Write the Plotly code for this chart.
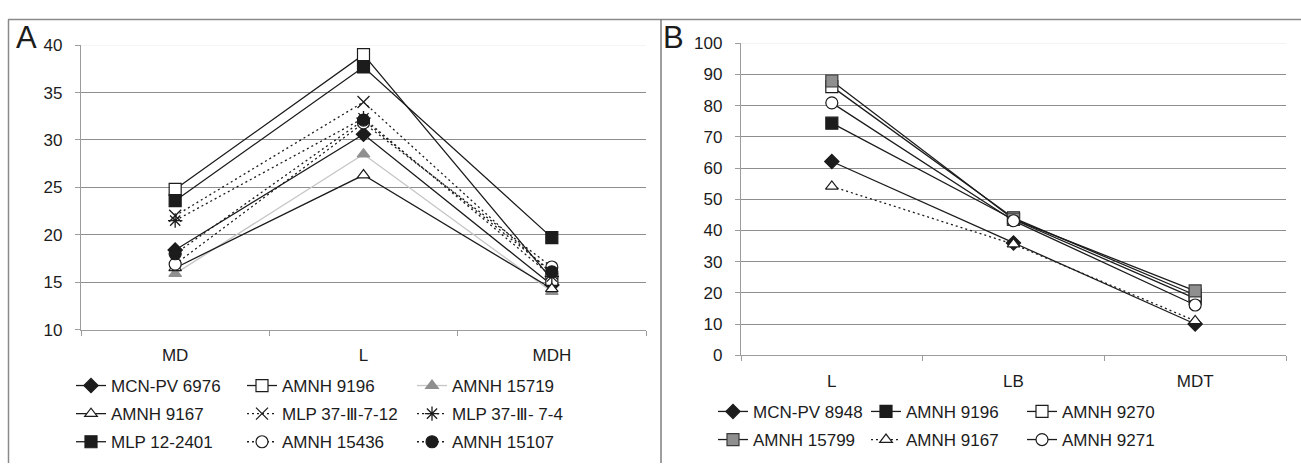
import plotly.graph_objects as go

W, H = 1301, 473

# ---------------- Panel A data ----------------
cats_a = ["MD", "L", "MDH"]
a_mcn_pv_6976 = [18.4, 30.6, 14.7]
a_amnh_9196 = [24.8, 39.0, 15.3]
a_amnh_15719 = [15.9, 28.5, 14.0]
a_amnh_9167 = [16.5, 26.3, 14.3]
a_mlp_37_iii_7_12 = [22.0, 34.0, 15.9]
a_mlp_37_iii_7_4 = [21.5, 32.3, 15.6]
a_mlp_12_2401 = [23.6, 37.7, 19.7]
a_amnh_15436 = [16.9, 31.8, 16.6]
a_amnh_15107 = [18.0, 32.1, 16.1]
ticks_a = [10, 15, 20, 25, 30, 35, 40]
grid_a = [15, 20, 25, 30, 35]

# ---------------- Panel B data ----------------
cats_b = ["L", "LB", "MDT"]
b_mcn_pv_8948 = [62.1, 36.0, 10.0]
b_amnh_9196 = [74.4, 43.5, 18.2]
b_amnh_9270 = [86.1, 44.0, 19.3]
b_amnh_15799 = [87.9, 43.6, 20.6]
b_amnh_9167 = [54.1, 35.6, 11.0]
b_amnh_9271 = [80.9, 43.1, 16.1]
ticks_b = [0, 10, 20, 30, 40, 50, 60, 70, 80, 90, 100]
grid_b = [10, 20, 30, 40, 50, 60, 70, 80, 90]

FONT = "Liberation Sans, Arial, sans-serif"
INK = "#1c1c1c"
GRID = "#8e8e8e"
AXIS = "#9c9c9c"

fig = go.Figure()


def add(name, x, y, xa, ya, legend, symbol, mfill, mline, size, dash="solid",
        lcolor=INK, mlw=1.2):
    fig.add_trace(go.Scatter(
        x=x, y=y, name=name, mode="lines+markers",
        xaxis=xa, yaxis=ya, legend=legend, legendgroup=name,
        line=dict(color=lcolor, width=1.3, dash=dash),
        marker=dict(symbol=symbol, size=size, color=mfill,
                    line=dict(color=mline, width=mlw)),
    ))


DOT = "2px,3px"
# Panel A (row-major order, columns -> legend, legend2, legend3)
add("MCN-PV 6976", cats_a, a_mcn_pv_6976, "x", "y", "legend", "diamond", INK, INK, 11)
add("AMNH 9196", cats_a, a_amnh_9196, "x", "y", "legend2", "square", "white", INK, 12)
add("AMNH 15719", cats_a, a_amnh_15719, "x", "y", "legend3", "triangle-up", "#8f8f8f", "#8f8f8f", 11, lcolor="#c6c6c6")
add("AMNH 9167", cats_a, a_amnh_9167, "x", "y", "legend", "triangle-up", "white", INK, 11)
add("MLP 37-Ⅲ-7-12", cats_a, a_mlp_37_iii_7_12, "x", "y", "legend2", "x-thin-open", INK, INK, 12, dash=DOT, mlw=1.3)
add("MLP 37-Ⅲ- 7-4", cats_a, a_mlp_37_iii_7_4, "x", "y", "legend3", "asterisk-open", INK, INK, 12, dash=DOT, mlw=1.3)
add("MLP 12-2401", cats_a, a_mlp_12_2401, "x", "y", "legend", "square", INK, INK, 12)
add("AMNH 15436", cats_a, a_amnh_15436, "x", "y", "legend2", "circle", "white", INK, 12, dash=DOT)
add("AMNH 15107", cats_a, a_amnh_15107, "x", "y", "legend3", "circle", INK, INK, 12, dash=DOT)

# Panel B
add("MCN-PV 8948", cats_b, b_mcn_pv_8948, "x2", "y2", "legend4", "diamond", INK, INK, 11)
add("AMNH 9196", cats_b, b_amnh_9196, "x2", "y2", "legend5", "square", INK, INK, 12)
add("AMNH 9270", cats_b, b_amnh_9270, "x2", "y2", "legend6", "square", "white", INK, 12)
add("AMNH 15799", cats_b, b_amnh_15799, "x2", "y2", "legend4", "square", "#8f8f8f", "#3a3a3a", 12)
add("AMNH 9167", cats_b, b_amnh_9167, "x2", "y2", "legend5", "triangle-up", "white", INK, 11, dash=DOT)
add("AMNH 9271", cats_b, b_amnh_9271, "x2", "y2", "legend6", "circle", "white", INK, 12)


def px_x(p):
    return p / W


def px_y(p):
    return (H - p) / H


xaxis_common = dict(
    type="category", range=[-0.5, 2.5], showline=True, linecolor=AXIS, linewidth=1.3,
    ticks="outside", tickson="boundaries", ticklen=5, tickcolor=AXIS, tickwidth=1.3,
    showgrid=False, zeroline=False, tickfont=dict(size=17, color=INK, family=FONT),
    ticklabelstandoff=10, fixedrange=True,
)
yaxis_common = dict(
    showline=True, linecolor=AXIS, linewidth=1.3, ticks="outside", ticklen=5,
    tickcolor=AXIS, tickwidth=1.3, showgrid=False,
    zeroline=False, tickfont=dict(size=17, color=INK, family=FONT),
    ticklabelstandoff=9, fixedrange=True,
)

legend_common = dict(
    orientation="v", xanchor="left", yanchor="top", bgcolor="rgba(0,0,0,0)",
    font=dict(size=17, color=INK, family=FONT), itemwidth=30, tracegroupgap=3,
    itemclick=False, itemdoubleclick=False,
)

layout = dict(
    width=W, height=H, autosize=False,
    margin=dict(l=0, r=0, t=0, b=0),
    paper_bgcolor="white", plot_bgcolor="white",
    font=dict(family=FONT, color=INK),
    xaxis=dict(domain=[px_x(81), px_x(646)], anchor="y", **xaxis_common),
    yaxis=dict(domain=[px_y(334), px_y(37.7)], anchor="x", range=[10, 40],
               tickvals=ticks_a,
               minor=dict(tickvals=grid_a, showgrid=True, gridcolor=GRID,
                          gridwidth=1, ticks=""),
               **yaxis_common),
    xaxis2=dict(domain=[px_x(741), px_x(1286)], anchor="y2", **xaxis_common),
    yaxis2=dict(domain=[px_y(360.7), px_y(35.7)], anchor="x2", range=[0, 100],
                tickvals=ticks_b,
                minor=dict(tickvals=grid_b, showgrid=True, gridcolor=GRID,
                           gridwidth=1, ticks=""),
                **yaxis_common),
    legend=dict(x=px_x(71), y=px_y(374), **legend_common),
    legend2=dict(x=px_x(242), y=px_y(374), **legend_common),
    legend3=dict(x=px_x(412), y=px_y(374), **legend_common),
    legend4=dict(x=px_x(713), y=px_y(401), **legend_common),
    legend5=dict(x=px_x(866), y=px_y(401), **legend_common),
    legend6=dict(x=px_x(1022), y=px_y(401), **legend_common),
    shapes=[
        dict(type="line", xref="paper", yref="paper", x0=px_x(8), x1=1,
             y0=px_y(11), y1=px_y(11), line=dict(color="#8a8a8a", width=1.5)),
        dict(type="line", xref="paper", yref="paper", x0=px_x(8.5), x1=px_x(8.5),
             y0=0, y1=px_y(11), line=dict(color="#8a8a8a", width=1.5)),
        dict(type="line", xref="paper", yref="paper", x0=px_x(661), x1=px_x(661),
             y0=0, y1=px_y(11), line=dict(color="#6a6a6a", width=1.3)),
        # faint top lines of the plot areas
        dict(type="line", xref="x domain", yref="y", x0=0, x1=1, y0=40, y1=40,
             line=dict(color="#ececec", width=1)),
        dict(type="line", xref="x2 domain", yref="y2", x0=0, x1=1, y0=100, y1=100,
             line=dict(color="#ececec", width=1)),
    ],
    annotations=[
        dict(text="A", x=px_x(14), y=px_y(9), xref="paper", yref="paper",
             xanchor="left", yanchor="top", showarrow=False,
             font=dict(size=31, color=INK, family=FONT)),
        dict(text="B", x=px_x(661), y=px_y(9), xref="paper", yref="paper",
             xanchor="left", yanchor="top", showarrow=False,
             font=dict(size=31, color=INK, family=FONT)),
    ],
)
fig.update_layout(**layout)

fig.write_html(
    "out.html",
    config={"displayModeBar": False},
    post_script="document.body.style.margin='0';document.body.style.padding='0';"
                "document.documentElement.style.overflow='hidden';",
)
